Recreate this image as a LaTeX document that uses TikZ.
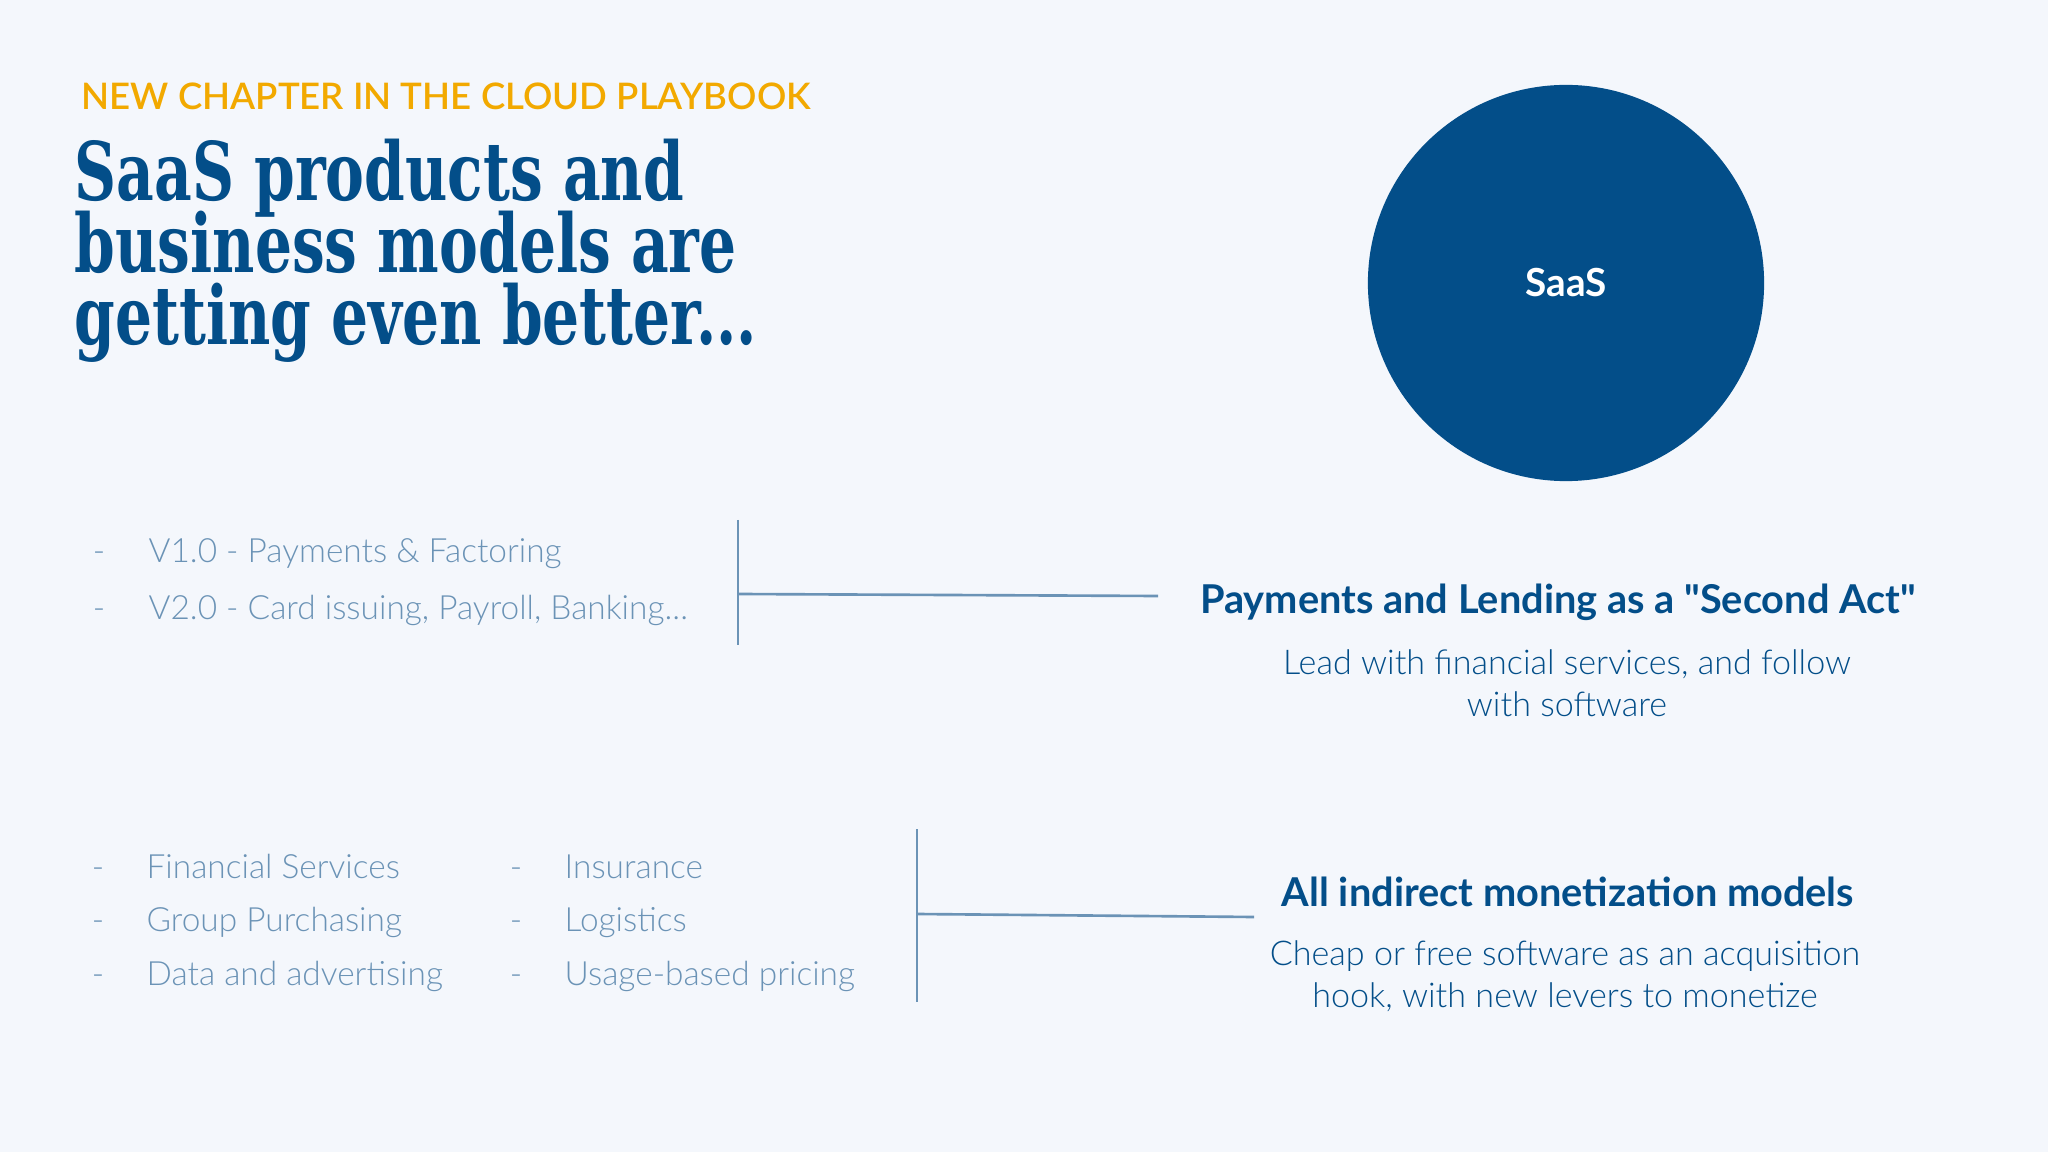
\documentclass[tikz,border=0pt]{standalone}
\usepackage{fontspec}
\setmainfont{Lato}
\newfontfamily\lightfont{Lato Light}
\newfontfamily\midfont{Lato Semibold}
\newfontfamily\titlefont{DejaVu Serif}[FakeStretch=0.72]
\newcommand\tightlines{\lineskiplimit=-30pt\relax\lineskip=0pt\relax}
\definecolor{pagebg}{HTML}{F4F7FC}
\definecolor{navy}{HTML}{034E89}
\definecolor{gold}{HTML}{F2A900}
\definecolor{steel}{HTML}{6B93B6}

\begin{document}
\begin{tikzpicture}[
  x=0.01cm, y=-0.01cm,
  titleblock/.style={anchor=base west, inner sep=0, align=left, text=navy, font=\titlefont\bfseries\fontsize{23}{20.5}\selectfont\tightlines},
  listitem/.style={anchor=mid west, inner sep=0, text=steel, font=\lightfont\fontsize{9.5}{12}\selectfont},
  dashmark/.style={listitem, anchor=mid},
  heading/.style={inner sep=0, text=navy, font=\bfseries\fontsize{11.3}{13}\selectfont},
  subtext/.style={inner sep=0, align=center, text=navy, font=\lightfont\fontsize{9.7}{11.95}\selectfont},
  conn/.style={draw=steel, line width=0.75pt}
]
\fill[pagebg] (0,0) rectangle (2048,1152);
\useasboundingbox (0,0) rectangle (2048,1152);

% title block
\node[anchor=base west, inner sep=0, text=gold, font=\midfont\fontsize{10.4}{12}\selectfont] (kicker) at (81,110) {NEW CHAPTER IN THE CLOUD PLAYBOOK};
\node[titleblock] (title) at (74,345) {SaaS products and\\business models are\\getting even better...};

\node[circle, fill=navy, minimum size=3.96cm, inner sep=0, text=white, font=\bfseries\fontsize{11}{13}\selectfont] (saas) at (1566,283) {SaaS};

% first group
\node[dashmark] (dv1) at (99,554) {-};
\node[listitem] (v1) at (148,554) {V1.0 - Payments \& Factoring};
\node[dashmark] (dv2) at (99,611) {-};
\node[listitem] (v2) at (148,611) {V2.0 - Card issuing, Payroll, Banking...};

\coordinate (bar1top) at (738,520);
\coordinate (bar1bot) at (738,645);
\coordinate (bar1mid) at (738,594);
\coordinate (bar1end) at (1158,596);
\draw[conn] (bar1top) -- (bar1bot);
\draw[conn] (bar1mid) -- (bar1end);

\node[heading] (act) at (1558,602) {Payments and Lending as a \textquotedbl Second Act\textquotedbl};
\node[subtext] (lead) at (1567,683) {Lead with financial services, and follow\\with software};

% second group
\node[dashmark] (dfin) at (98,870) {-};
\node[listitem] (fin) at (146,870) {Financial Services};
\node[dashmark] (dgrp) at (98,923) {-};
\node[listitem] (grp) at (146,923) {Group Purchasing};
\node[dashmark] (ddata) at (98,977) {-};
\node[listitem] (data) at (146,977) {Data and advertising};
\node[dashmark] (dins) at (516,870) {-};
\node[listitem] (ins) at (564,870) {Insurance};
\node[dashmark] (dlog) at (516,923) {-};
\node[listitem] (logi) at (564,923) {Logistics};
\node[dashmark] (duse) at (516,977) {-};
\node[listitem] (usage) at (564,977) {Usage-based pricing};

\coordinate (bar2top) at (917,829);
\coordinate (bar2bot) at (917,1002);
\coordinate (bar2mid) at (917,914);
\coordinate (bar2end) at (1254,917);
\draw[conn] (bar2top) -- (bar2bot);
\draw[conn] (bar2mid) -- (bar2end);

\node[heading] (indirect) at (1568,892) {All indirect monetization models};
\node[subtext] (cheap) at (1565,976) {Cheap or free software as an acquisition\\hook, with new levers to monetize};
\end{tikzpicture}
\end{document}
